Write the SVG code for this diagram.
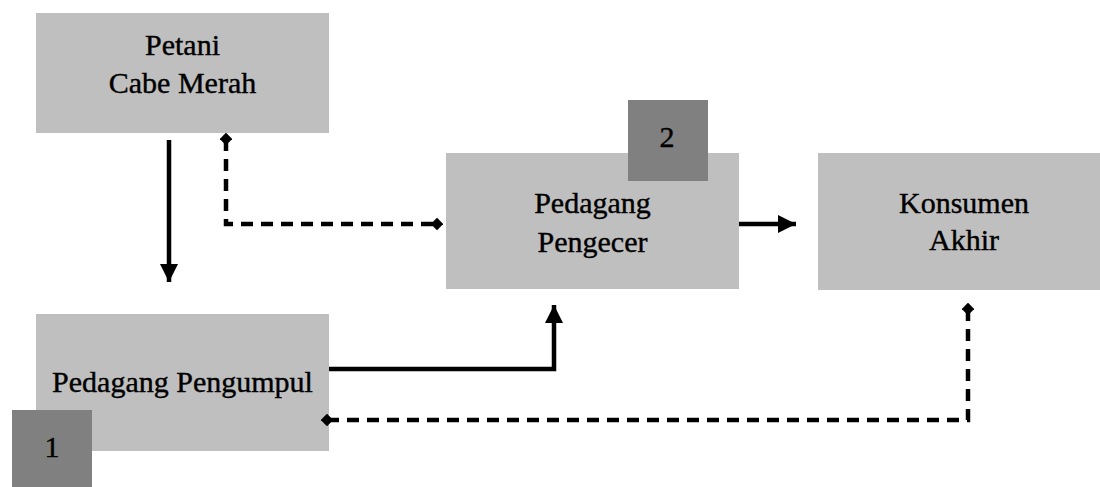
<svg xmlns="http://www.w3.org/2000/svg" width="1100" height="487" viewBox="0 0 1100 487">
<style>
.box{fill:#bfbfbf}
.badge{fill:#808080}
.t{font-family:"Liberation Serif","Times New Roman",serif;font-size:30px;fill:#000;stroke:#000;stroke-width:0.4;text-anchor:middle}
.solid{stroke:#000;stroke-width:4.5;fill:none}
.dash{stroke:#000;stroke-width:4.5;fill:none;stroke-dasharray:12 8}
</style>
<defs>
<marker id="arrow" viewBox="0 0 10 10" refX="10" refY="5" markerWidth="4" markerHeight="4" markerUnits="strokeWidth" orient="auto">
<path d="M0,0 L10,5 L0,10 Z" fill="#000"/>
</marker>
<marker id="diamond" viewBox="0 0 10 10" refX="5" refY="5" markerWidth="2.8" markerHeight="2.8" markerUnits="strokeWidth" orient="auto">
<path d="M0,5 L5,0 L10,5 L5,10 Z" fill="#000"/>
</marker>
</defs>
<g id="petani">
<rect class="box" x="36" y="13" width="293" height="120"/>
<text class="t" x="182.5" y="55">Petani</text>
<text class="t" x="182.5" y="93">Cabe Merah</text>
</g>
<g id="pengumpul">
<rect class="box" x="36" y="314" width="293" height="137"/>
<text class="t" x="182.5" y="392">Pedagang Pengumpul</text>
</g>
<g id="badge1">
<rect class="badge" x="12" y="410" width="80" height="77"/>
<text class="t" x="52" y="457">1</text>
</g>
<g id="pengecer">
<rect class="box" x="446" y="153" width="293" height="136"/>
<text class="t" x="592.5" y="213">Pedagang</text>
<text class="t" x="592.5" y="252">Pengecer</text>
</g>
<g id="badge2">
<rect class="badge" x="628" y="100" width="80" height="81"/>
<text class="t" x="667" y="147">2</text>
</g>
<g id="konsumen">
<rect class="box" x="818" y="153" width="293" height="137"/>
<text class="t" x="964" y="213">Konsumen</text>
<text class="t" x="964" y="250">Akhir</text>
</g>
<g id="connectors">
<path class="solid" d="M169,140 V282" marker-end="url(#arrow)"/>
<path class="solid" d="M739,224 H796" marker-end="url(#arrow)"/>
<path class="solid" d="M329,369 H554 V305" marker-end="url(#arrow)"/>
<path class="dash" d="M226,139 V224 H437" marker-start="url(#diamond)" marker-end="url(#diamond)"/>
<path class="dash" d="M968,309 V420 H327" marker-start="url(#diamond)" marker-end="url(#diamond)"/>
</g>
</svg>
